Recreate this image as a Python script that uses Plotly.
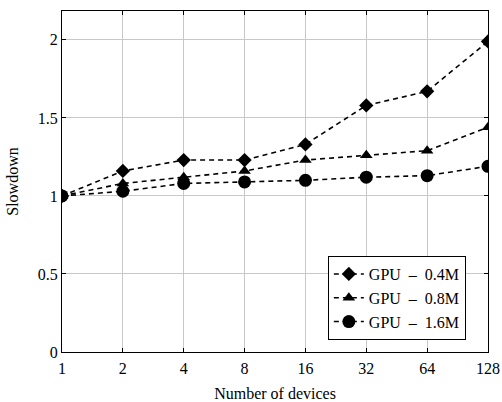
import plotly.graph_objects as go

devices = [1, 2, 4, 8, 16, 32, 64, 128]
gpu_04 = [1.00, 1.16, 1.23, 1.23, 1.33, 1.58, 1.67, 1.99]
gpu_08 = [1.00, 1.08, 1.12, 1.16, 1.23, 1.26, 1.29, 1.44]
gpu_16 = [1.00, 1.03, 1.08, 1.09, 1.10, 1.12, 1.13, 1.19]
names = ["GPU\u2002–\u20020.4M", "GPU\u2002–\u20020.8M", "GPU\u2002–\u20021.6M"]
y_ticks = [0, 0.5, 1, 1.5, 2]
y_tick_text = ["0", "0.5", "1", "1.5", "2"]

fig = go.Figure()
for ys, name, sym, sz in [(gpu_04, names[0], "diamond", 11),
                          (gpu_08, names[1], "triangle-up", 11),
                          (gpu_16, names[2], "circle", 13)]:
    fig.add_trace(go.Scatter(
        x=devices, y=ys, name=name, mode="lines+markers",
        line=dict(color="black", width=1.6, dash="5px,4px"),
        marker=dict(symbol=sym, size=sz, color="black"),
    ))

fam = "Liberation Serif, DejaVu Serif, serif"
fig.update_layout(
    width=502, height=402,
    margin=dict(l=62, r=14, t=11, b=50),
    paper_bgcolor="white", plot_bgcolor="white",
    font=dict(family=fam, size=16, color="black"),
    showlegend=True,
    legend=dict(x=0.948, y=0.035, xanchor="right", yanchor="bottom",
                bordercolor="black", borderwidth=1, bgcolor="white",
                font=dict(family=fam, size=16, color="black"),
                tracegroupgap=0, itemwidth=30),
)
fig.update_xaxes(
    type="log", range=[0, 2.10721], tickvals=devices, ticktext=[str(d) for d in devices],
    showgrid=True, gridcolor="#c8c8c8", gridwidth=1,
    showline=True, linecolor="black", linewidth=1.2, mirror="ticks",
    ticks="inside", ticklen=4, tickcolor="black", ticklabelstandoff=2,
    automargin=False,
    title=dict(text="Number of devices", font=dict(size=16)), zeroline=False,
)
fig.update_yaxes(
    range=[0, 2.185], tickvals=y_ticks, ticktext=y_tick_text,
    showgrid=True, gridcolor="#c8c8c8", gridwidth=1,
    showline=True, linecolor="black", linewidth=1.2, mirror="ticks",
    ticks="inside", ticklen=4, tickcolor="black",
    automargin=False,
    title=dict(text="Slowdown", font=dict(size=16)), zeroline=False,
)
fig.write_html("out.html")
